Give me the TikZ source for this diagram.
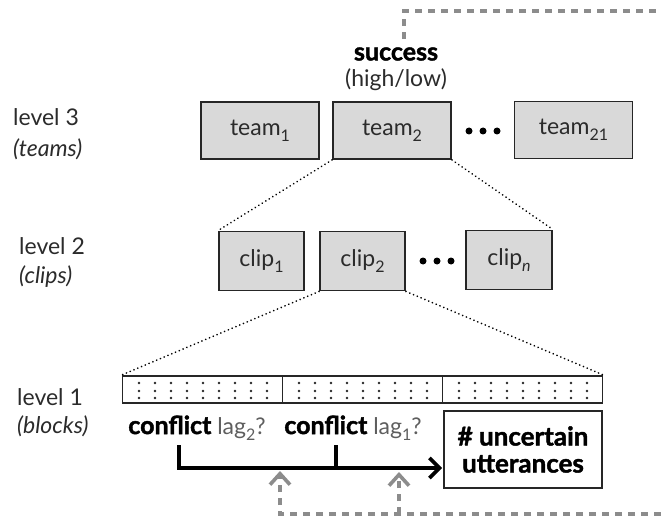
\documentclass[tikz,border=0pt]{standalone}
\usepackage{fontspec}
\setmainfont{Lato}[BoldFeatures={FakeBold=1.6}]
\usetikzlibrary{arrows.meta}
\definecolor{boxfill}{HTML}{D9D9D9}
\definecolor{txt}{HTML}{2B2B2B}
\definecolor{gdashc}{HTML}{8C8C8C}
\definecolor{lagc}{HTML}{5E5E5E}
\newcommand\mysub[1]{\raisebox{-0.55ex}{\fontsize{16}{16}\selectfont #1}}
\begin{document}
\begin{tikzpicture}[x=1pt,y=-1pt,
  font=\fontsize{23}{27}\selectfont,
  gbox/.style={draw=black!85, line width=1.9pt, fill=boxfill, inner sep=0pt, text=txt},
  teambox/.style={gbox, minimum width=118pt, minimum height=57pt},
  clipbox/.style={gbox, minimum width=85pt, minimum height=59pt},
  blockbox/.style={draw=black!85, line width=1.9pt, inner sep=0pt, minimum width=160pt, minimum height=27pt},
  lvl/.style={anchor=west, text=txt, inner sep=0pt},
  dotline/.style={line width=1.8pt, dash pattern=on 0.1pt off 4pt, line cap=round},
  gdash/.style={draw=gdashc, line width=3.8pt, dash pattern=on 7pt off 6pt},
  garrow/.style={gdash, -{Straight Barb[length=11pt, width=20pt, line width=3.6pt]}},
  blkarrow/.style={line width=3.6pt, -{Straight Barb[length=10pt, width=20pt, line width=3.6pt]}},
  bigdot/.style={fill=black, inner sep=0pt, minimum size=7pt, circle},
  smalldot/.style={fill=black!85, circle, inner sep=0pt, minimum size=2.8pt},
  boldtxt/.style={font=\fontsize{25}{28}\selectfont\bfseries}
]
\useasboundingbox (0,0) rectangle (661,516);

% left level labels
\node[lvl] (l3) at (13,117) {level 3};
\node[lvl] (l3b) at (13,149) {\itshape (teams)};
\node[lvl] (l2) at (19,246) {level 2};
\node[lvl] (l2b) at (19,277) {\itshape (clips)};
\node[lvl] (l1) at (17,397) {level 1};
\node[lvl] (l1b) at (17,426) {\itshape (blocks)};

% level 3
\node[teambox] (team1) at (260,130.5) {team\mysub{1}};
\node[teambox] (team2) at (392,130.5) {team\mysub{2}};
\node[teambox] (team21) at (573.5,130) {team\mysub{21}};
\foreach \x in {469,483,497} \node[bigdot] at (\x,131) {};

\node[inner sep=0pt, boldtxt] (succ) at (396,54) {success};
\node[inner sep=0pt, text=txt] (hl) at (396,80) {(high/low)};

% level 2
\node[clipbox] (clip1) at (261.5,261) {clip\mysub{1}};
\node[clipbox] (clip2) at (362.5,261) {clip\mysub{2}};
\node[clipbox, minimum width=86pt] (clipn) at (509,260) {clip\mysub{\itshape n}};
\foreach \x in {423,437,451} \node[bigdot] at (\x,261) {};

% level 1 blocks
\node[blockbox] (b1) at (202.5,389.5) {};
\node[blockbox] (b2) at (362.5,389.5) {};
\node[blockbox] (b3) at (522.5,389.5) {};
\foreach \L in {122.5,282.5,442.5}
  \foreach \k in {0,...,8}
    \foreach \y in {383,391,398}
      \node[smalldot] at (\L+16.5+16*\k,\y) {};

% dotted zoom lines
\draw[dotline] (team2.south west) -- (clip1.north west);
\draw[dotline] (team2.south east) -- (clipn.north east);
\draw[dotline] (clip2.south west) -- (b1.north west);
\draw[dotline] (clip2.south east) -- (b3.north east);

% conflict labels
\node[inner sep=0pt] (c2) at (197,428) {{\fontsize{25}{28}\selectfont\bfseries conflict} \textcolor{lagc}{lag\mysub{2}?}};
\node[inner sep=0pt] (c1) at (353,428) {{\fontsize{25}{28}\selectfont\bfseries conflict} \textcolor{lagc}{lag\mysub{1}?}};

\node[draw=black!85, line width=1.9pt, minimum width=158pt, minimum height=77pt, align=center, inner sep=0pt,
  font=\fontsize{26}{27}\selectfont\bfseries] (unc) at (523,449.5) {\# uncertain\\utterances};

% black arrow
\coordinate (a2) at (179,445);
\coordinate (a1) at (336,445);
\coordinate (tip) at (442,468);
\draw[blkarrow] (a2) |- (tip);
\draw[line width=3.6pt] (a1) -- (a1 |- tip);

% gray dashed feedback
\coordinate (stop) at (404,39);
\coordinate (tr) at (661,11);
\draw[gdash] (stop) |- (tr);
\coordinate (br) at (661,514);
\coordinate (g2) at (280,471);
\coordinate (g1) at (399,472);
\coordinate (g1b) at (399,514);
\draw[garrow] (br) -| (g2);
\draw[garrow] (g1b) -- (g1);
\end{tikzpicture}
\end{document}
